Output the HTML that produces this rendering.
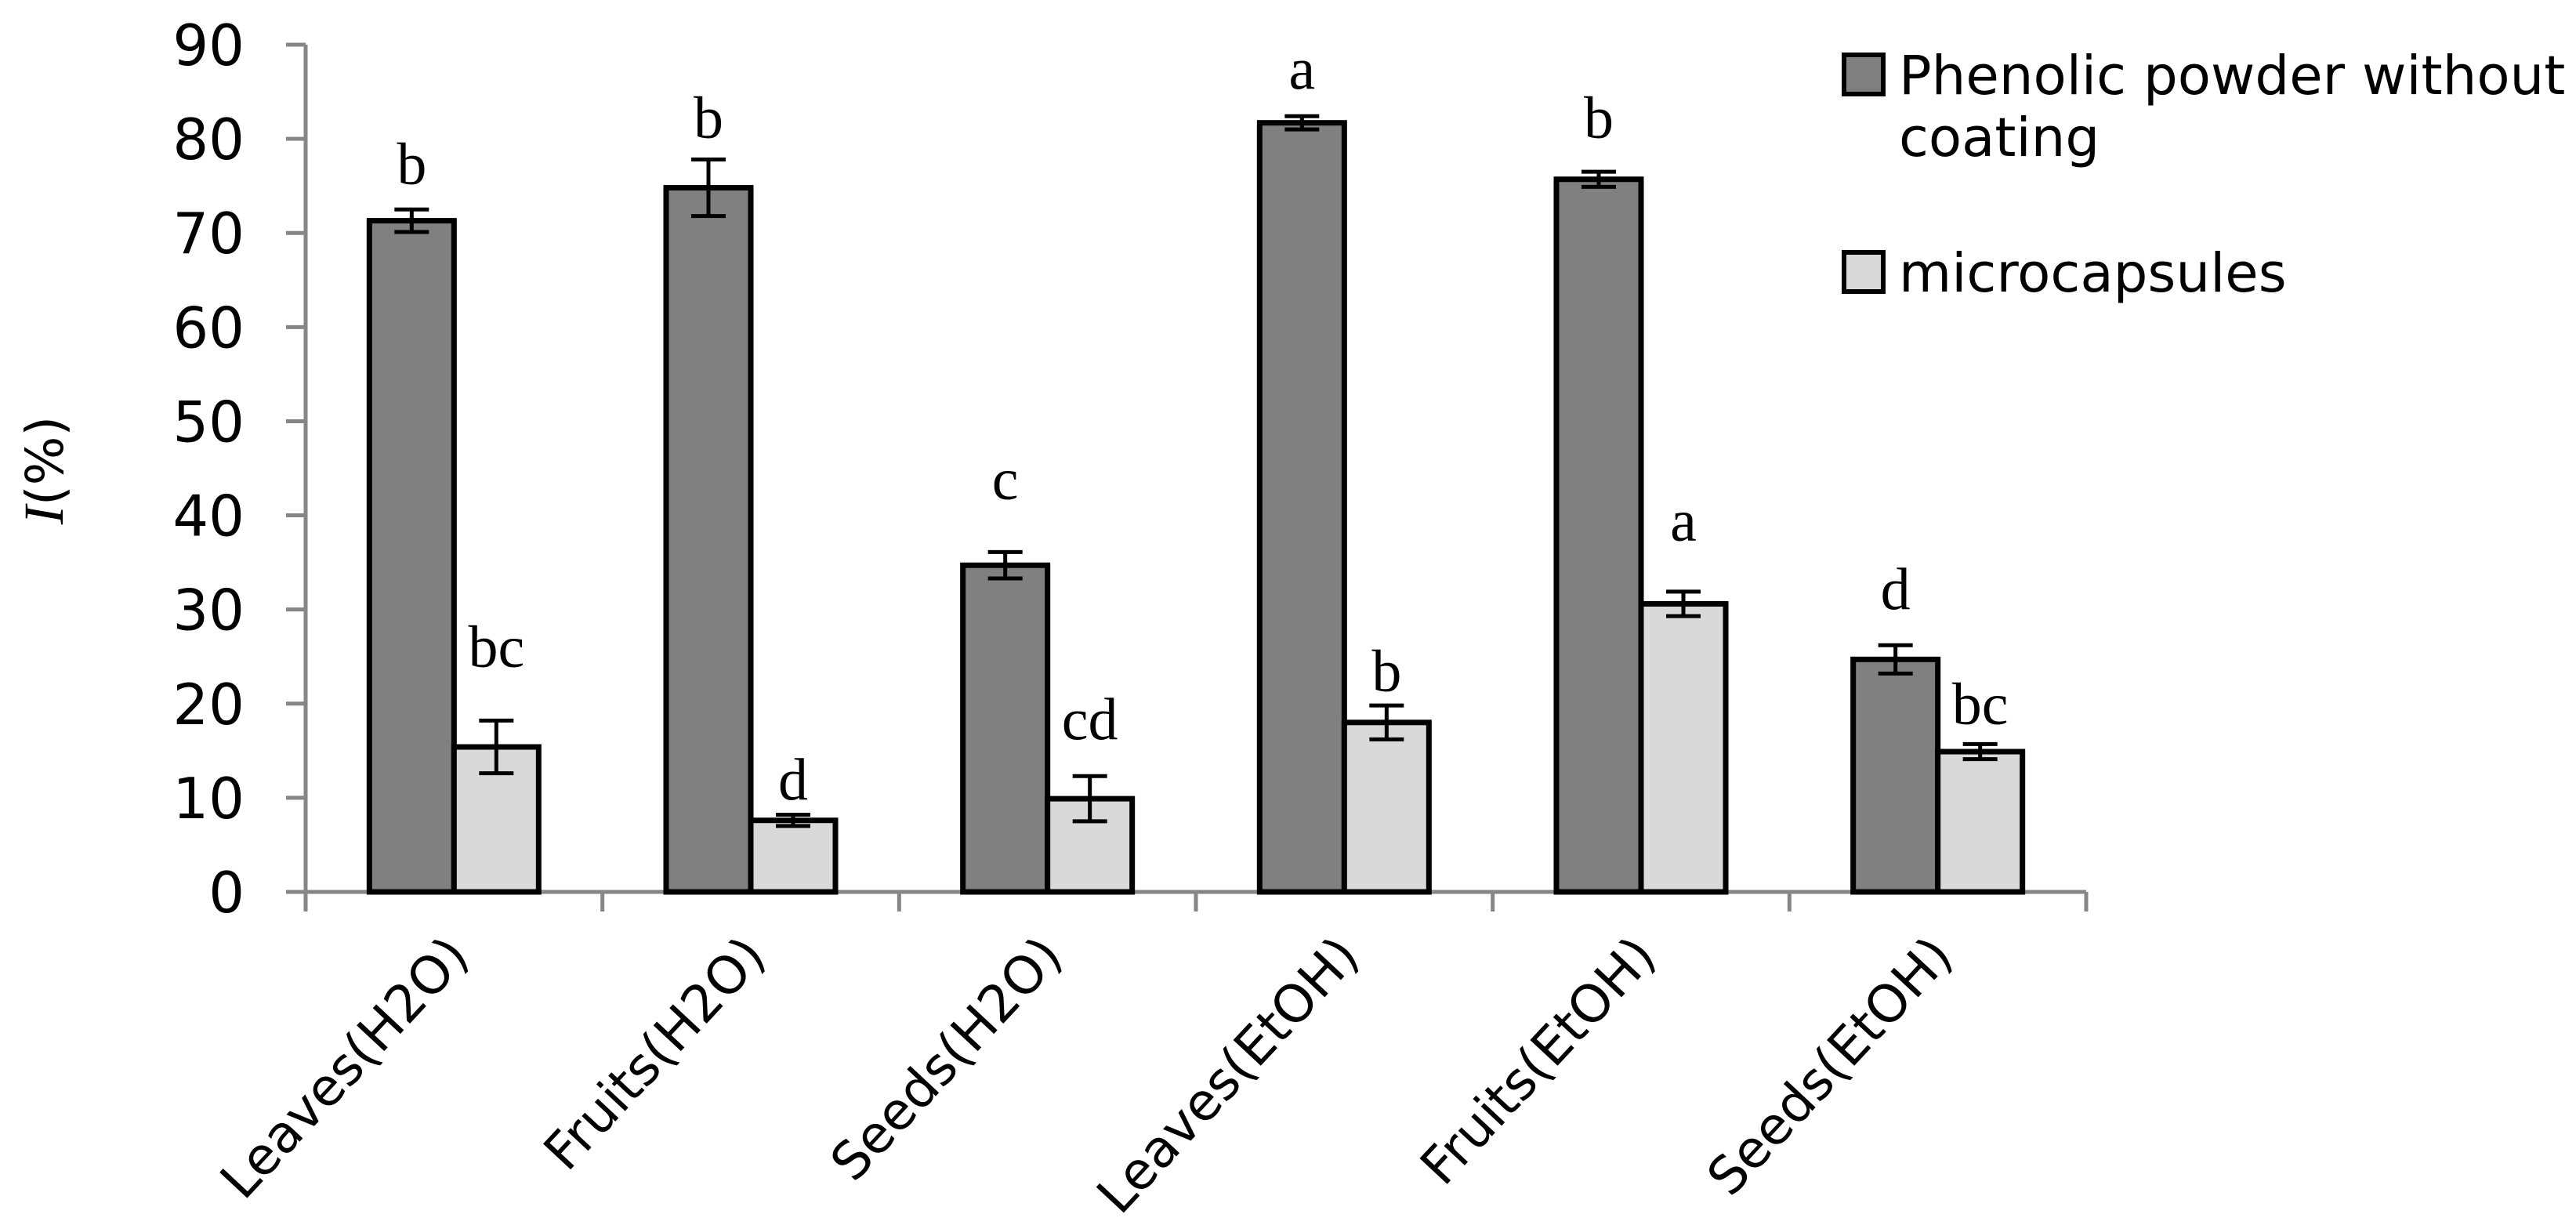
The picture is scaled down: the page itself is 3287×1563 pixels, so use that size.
<!DOCTYPE html>
<html><head><meta charset="utf-8"><style>
html,body{margin:0;padding:0;background:#fff;}
svg{display:block;}
</style></head><body>
<svg id="chart" width="3287" height="1563" viewBox="0 0 3287 1563" xmlns="http://www.w3.org/2000/svg">
<g id="axes"></g><g id="bars"></g><g id="labels"></g>
<g>
  <rect x="2353" y="70" width="50" height="50" fill="#808080" stroke="#000" stroke-width="6"/>
  <text x="2423" y="120" font-family="DejaVu Sans, sans-serif" font-size="69" fill="#000">Phenolic powder without</text>
  <text x="2423" y="199" font-family="DejaVu Sans, sans-serif" font-size="69" fill="#000">coating</text>
  <rect x="2353" y="322" width="50" height="50" fill="#d9d9d9" stroke="#000" stroke-width="6"/>
  <text x="2423" y="372" font-family="DejaVu Sans, sans-serif" font-size="69" fill="#000">microcapsules</text>
</g>
<text transform="translate(80,600) rotate(-90)" text-anchor="middle" font-family="Liberation Serif, serif" font-size="72" fill="#000"><tspan font-style="italic">I</tspan><tspan font-family="DejaVu Sans, sans-serif" font-size="66">(%)</tspan></text>
</svg>
<script>
const categories = ["Leaves(H2O)","Fruits(H2O)","Seeds(H2O)","Leaves(EtOH)","Fruits(EtOH)","Seeds(EtOH)"];
const phenolicValues = [71.3, 74.8, 34.7, 81.7, 75.7, 24.7];
const phenolicErrors = [1.2, 3.0, 1.4, 0.7, 0.8, 1.5];
const phenolicLetters = ["b","b","c","a","b","d"];
const phenolicLetterPos = [75.2, 80.1, 41.7, 85.3, 80.1, 30.0];
const microValues = [15.4, 7.6, 9.9, 18.0, 30.6, 14.9];
const microErrors = [2.8, 0.6, 2.4, 1.8, 1.3, 0.8];
const microLetters = ["bc","d","cd","b","a","bc"];
const microLetterPos = [23.9, 9.8, 16.2, 21.3, 37.3, 17.8];
const yTicks = [0,10,20,30,40,50,60,70,80,90];

const NS="http://www.w3.org/2000/svg";
const X0=390, X1=2662, Y0=1138, YTOP=57, YMAX=90;
const catW=(X1-X0)/categories.length;
const barW=108;
function y(v){return Y0-(v/YMAX)*(Y0-YTOP);}
function cx(i){return X0+catW*(i+0.5);}
function mk(tag,attrs,parent){const e=document.createElementNS(NS,tag);for(const k in attrs)e.setAttribute(k,attrs[k]);parent.appendChild(e);return e;}
const axes=document.getElementById('axes'),bars=document.getElementById('bars'),labels=document.getElementById('labels');

let e=mk('line',{x1:X0,y1:YTOP,x2:X0,y2:Y0,stroke:'#868686','stroke-width':5},axes);


yTicks.forEach(t=>{
  let tk=mk('line',{x1:365,y1:y(t),x2:X0,y2:y(t),stroke:'#868686','stroke-width':5},axes);
  
  
  let tl=mk('text',{x:312,y:y(t)+26,'text-anchor':'end','font-family':'DejaVu Sans, sans-serif','font-size':72,fill:'#000'},axes);
  tl.textContent=t;
  
  
});
for(let i=0;i<=categories.length;i++){
  const xx=X0+catW*i;
  let tk=mk('line',{x1:xx,y1:Y0,x2:xx,y2:1163,stroke:'#868686','stroke-width':5},axes);
  
  
}

function drawBar(i,val,err,letter,lpos,fill,off,nm){
  const x=cx(i)+off;
  let r=mk('rect',{x:x,y:y(val),width:barW,height:Y0-y(val),fill:fill,stroke:'#000','stroke-width':7},bars);
  
  
  const mx=x+barW/2;
  let g=mk('g',{stroke:'#000','stroke-width':5},bars);
  
  
  mk('line',{x1:mx,y1:y(val+err),x2:mx,y2:y(val-err)},g);
  mk('line',{x1:mx-22,y1:y(val+err),x2:mx+22,y2:y(val+err)},g);
  mk('line',{x1:mx-22,y1:y(val-err),x2:mx+22,y2:y(val-err)},g);
  let t=mk('text',{x:mx,y:y(lpos),'text-anchor':'middle','font-family':'Liberation Serif, serif','font-size':76,fill:'#000'},labels);
  t.textContent=letter;
  
  
}
categories.forEach((c,i)=>{
  drawBar(i,phenolicValues[i],phenolicErrors[i],phenolicLetters[i],phenolicLetterPos[i],'#808080',-barW,'phenolic');
  drawBar(i,microValues[i],microErrors[i],microLetters[i],microLetterPos[i],'#d9d9d9',0,'microcapsules');
  let t=mk('text',{transform:`translate(${cx(i)+22},1222) rotate(-47)`,'text-anchor':'end','font-family':'DejaVu Sans, sans-serif','font-size':66,fill:'#000'},labels);
  t.textContent=c;
  
  
});
let xa=mk('line',{x1:X0-25,y1:Y0,x2:X1,y2:Y0,stroke:'#868686','stroke-width':5},axes);


</script>
</body></html>
